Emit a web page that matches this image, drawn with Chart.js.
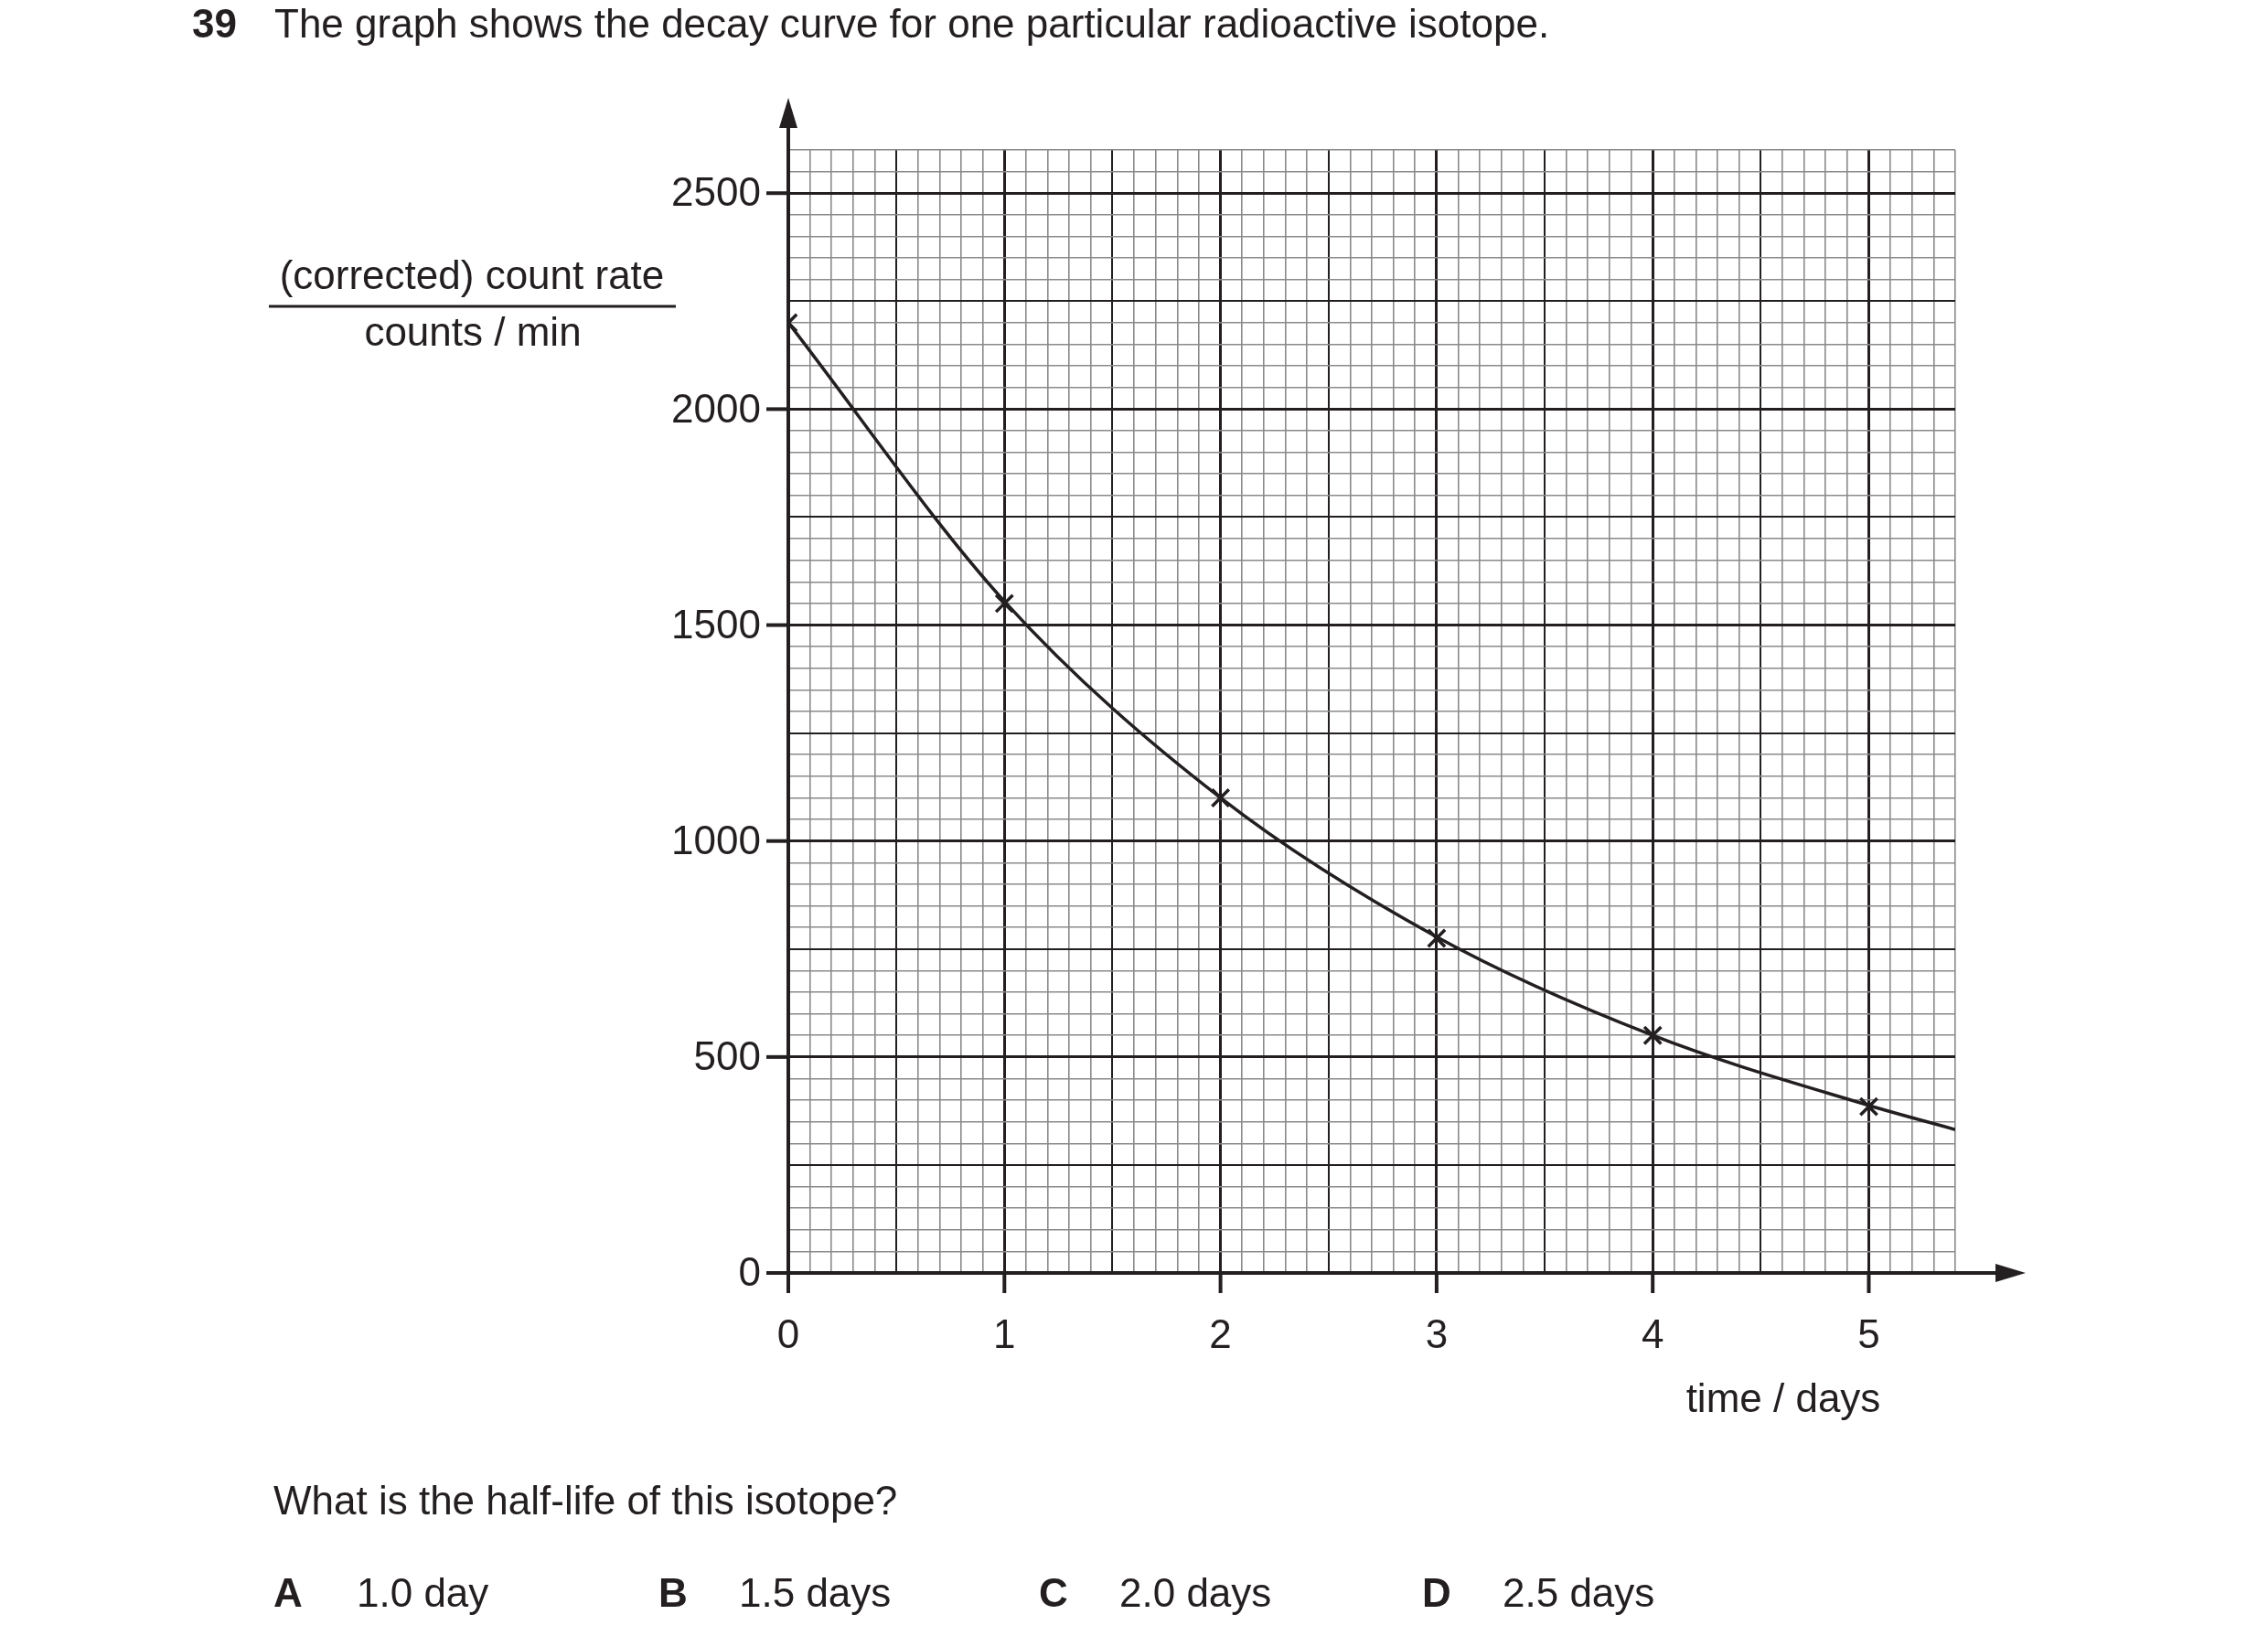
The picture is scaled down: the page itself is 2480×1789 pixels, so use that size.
<!DOCTYPE html>
<html><head><meta charset="utf-8">
<script src="https://cdn.jsdelivr.net/npm/chart.js@4/dist/chart.umd.min.js"></script>
<style>html,body{margin:0;padding:0;background:#fff}canvas{display:block}</style>
</head><body>
<div style="width:2480px;height:1789px"><canvas id="c" width="2480" height="1789"></canvas></div>
<script>
const pointDays = [0, 1, 2, 3, 4, 5];
const pointCounts = [2200, 1550, 1100, 775, 550, 385];
const curveDays = [0, 1, 2, 3, 4, 5, 5.4];
const curveCounts = [2200, 1555, 1100, 778, 550, 388, 332];
const xTickLabels = ['0', '1', '2', '3', '4', '5'];
const yTickLabels = ['0', '500', '1000', '1500', '2000', '2500'];
const answers = [['A', '1.0 day'], ['B', '1.5 days'], ['C', '2.0 days'], ['D', '2.5 days']];

const FONT = '"Liberation Sans", Arial, sans-serif';
const INK = '#231f20';

function gridColor(ctx, per) {
  const v = ctx.tick ? ctx.tick.value : 0;
  const i = Math.round(v / per);
  return (i % 5 === 0) ? INK : '#8a8a8a';
}
function gridWidth(ctx, per) {
  const v = ctx.tick ? ctx.tick.value : 0;
  const i = Math.round(v / per);
  if (i % 10 === 0) return 3;
  if (i % 5 === 0) return 2;
  return 1.6;
}

const deco = {
  id: 'deco',
  afterDatasetsDraw(chart) {
    const c = chart.ctx, xs = chart.scales.x, ys = chart.scales.y;
    const x0 = xs.getPixelForValue(0), y0 = ys.getPixelForValue(0);
    c.save();
    c.strokeStyle = INK; c.fillStyle = INK; c.lineWidth = 4;
    // axes
    c.beginPath(); c.moveTo(x0, y0 + 2); c.lineTo(x0, 120); c.stroke();
    c.beginPath(); c.moveTo(x0 - 2, y0); c.lineTo(2190, y0); c.stroke();
    c.beginPath(); c.moveTo(x0, 107); c.lineTo(x0 - 10, 140); c.lineTo(x0 + 10, 140); c.closePath(); c.fill();
    c.beginPath(); c.moveTo(2215, y0); c.lineTo(2182, y0 - 10); c.lineTo(2182, y0 + 10); c.closePath(); c.fill();
    // ticks and labels
    c.font = '44px ' + FONT; c.textBaseline = 'middle';
    yTickLabels.forEach(t => {
      const y = ys.getPixelForValue(+t);
      c.beginPath(); c.moveTo(x0 - 24, y); c.lineTo(x0, y); c.stroke();
      c.textAlign = 'right'; c.fillText(t, x0 - 30, y + 2);
    });
    xTickLabels.forEach(t => {
      const x = xs.getPixelForValue(+t);
      c.beginPath(); c.moveTo(x, y0); c.lineTo(x, y0 + 22); c.stroke();
      c.textAlign = 'center'; c.fillText(t, x, y0 + 70);
    });
    // axis titles
    c.textAlign = 'center';
    c.fillText('(corrected) count rate', 516, 304);
    c.lineWidth = 3;
    c.beginPath(); c.moveTo(294, 335); c.lineTo(739, 335); c.stroke();
    c.fillText('counts / min', 517, 366);
    c.fillText('time / days', 1950, 1532);
    // question text
    c.textAlign = 'left';
    c.font = 'bold 44px ' + FONT; c.fillText('39', 210, 29);
    c.font = '44px ' + FONT; c.fillText('The graph shows the decay curve for one particular radioactive isotope.', 300, 29);
    c.fillText('What is the half-life of this isotope?', 299, 1644);
    const ax = [[299, 390], [720, 808], [1136, 1224], [1555, 1643]];
    answers.forEach((a, i) => {
      c.font = 'bold 44px ' + FONT; c.fillText(a[0], ax[i][0], 1745);
      c.font = '44px ' + FONT; c.fillText(a[1], ax[i][1], 1745);
    });
    c.restore();
  }
};

new Chart(document.getElementById('c'), {
  type: 'scatter',
  data: {
    datasets: [
      { data: curveDays.map((d, i) => ({ x: d, y: curveCounts[i] })), showLine: true,
        cubicInterpolationMode: 'monotone', borderColor: INK, borderWidth: 3.5, pointRadius: 0 },
      { data: pointDays.map((d, i) => ({ x: d, y: pointCounts[i] })), showLine: false,
        pointStyle: 'crossRot', pointRadius: 13, pointBorderWidth: 3.5, borderColor: INK, backgroundColor: INK }
    ]
  },
  options: {
    responsive: false, animation: false, devicePixelRatio: 1,
    layout: { padding: { left: 862, right: 342, top: 164, bottom: 397 } },
    plugins: { legend: { display: false }, tooltip: { enabled: false } },
    scales: {
      x: { type: 'linear', min: 0, max: 5.4, border: { display: false },
        ticks: { display: false, stepSize: 0.1, autoSkip: false, maxTicksLimit: 1000 },
        grid: { drawTicks: false, color: c => gridColor(c, 0.1), lineWidth: c => gridWidth(c, 0.1) } },
      y: { type: 'linear', min: 0, max: 2600, border: { display: false },
        ticks: { display: false, stepSize: 50, autoSkip: false, maxTicksLimit: 1000 },
        grid: { drawTicks: false, color: c => gridColor(c, 50), lineWidth: c => gridWidth(c, 50) } }
    }
  },
  plugins: [deco]
});
</script>
</body></html>
